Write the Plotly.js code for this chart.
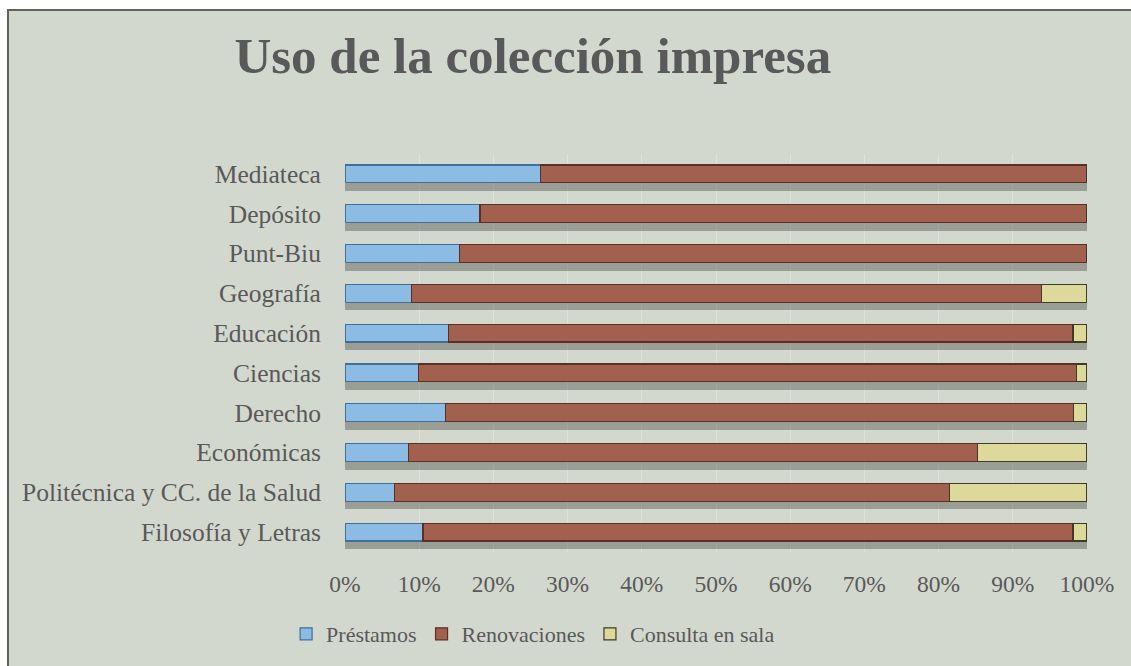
<!DOCTYPE html>
<html>
<head>
<meta charset="utf-8">
<script src="https://cdn.plot.ly/plotly-3.0.1.min.js"></script>
<style>
  html, body { margin: 0; padding: 0; background: #ffffff; width: 1131px; height: 666px; overflow: hidden; }
  #frame { position: absolute; left: 7px; top: 9px; width: 1124px; height: 657px; border-left: 2px solid #5f625d; border-top: 2px solid #5f625d; background: #d3d8ce; }
  #chart { position: absolute; left: 0; top: 0; width: 1124px; height: 657px; }
</style>
</head>
<body>
<div id="frame"><div id="chart"></div></div>
<script>
const categories = ["Filosofía y Letras", "Politécnica y CC. de la Salud", "Económicas", "Derecho", "Ciencias", "Educación", "Geografía", "Punt-Biu", "Depósito", "Mediateca"];
const prestamos    = [10.5,  6.7,  8.6, 13.5,  9.9, 13.9,  9.0, 15.4, 18.2, 26.3];
const renovaciones = [87.6, 74.8, 76.6, 84.7, 88.7, 84.2, 84.9, 84.6, 81.8, 73.7];
const consulta     = [ 1.9, 18.5, 14.8,  1.8,  1.4,  1.9,  6.1,  0.0,  0.0,  0.0];
const seriesNames = ["Préstamos", "Renovaciones", "Consulta en sala"];
const tickVals = [0, 10, 20, 30, 40, 50, 60, 70, 80, 90, 100];
const tickText = ["0%", "10%", "20%", "30%", "40%", "50%", "60%", "70%", "80%", "90%", "100%"];

const serif = "Liberation Serif, Times New Roman, serif";
const textColor = "#595959";
const totals = categories.map((c, i) => prestamos[i] + renovaciones[i] + consulta[i]);

// soft drop shadow under each bar (drawn on the base axis, beneath the bars)
const shadow = {
  type: "bar", orientation: "h", y: categories, x: totals,
  xaxis: "x", yaxis: "y", showlegend: false, hoverinfo: "skip",
  marker: { color: "rgba(60,62,58,0.38)", line: { width: 0 } },
  offset: -0.43, width: 0.33
};
function mk(name, vals, fill, edge) {
  return {
    type: "bar", orientation: "h", name: name, y: categories, x: vals,
    xaxis: "x", yaxis: "y2",
    marker: { color: fill, line: { color: edge, width: 1.2 } }
  };
}
const traces = [
  shadow,
  mk(seriesNames[0], prestamos, "#8cbbe4", "#3f6f9c"),
  mk(seriesNames[1], renovaciones, "#a2614f", "#5a2f25"),
  mk(seriesNames[2], consulta, "#dcd99b", "#3d3b22")
];

const catRange = [-0.5, categories.length - 0.5];
const layout = {
  width: 1124, height: 657,
  paper_bgcolor: "#d3d8ce", plot_bgcolor: "rgba(0,0,0,0)",
  margin: { l: 336, r: 46, t: 143, b: 116 },
  barmode: "stack", bargap: 0.55,
  title: { text: "<b>Uso de la colección impresa</b>", font: { family: serif, size: 51, color: textColor }, x: 0.466, xanchor: "center", xref: "container", y: 0.933, yanchor: "middle", yref: "container" },
  xaxis: { range: [0, 100], tickvals: tickVals, ticktext: tickText, showgrid: true, gridcolor: "#dfe2db", gridwidth: 1, zeroline: false, showline: false, ticks: "outside", ticklen: 11, tickcolor: "rgba(0,0,0,0)", tickfont: { family: serif, size: 23.5, color: textColor }, fixedrange: true },
  yaxis: { type: "category", categoryorder: "array", categoryarray: categories, range: catRange, showgrid: false, zeroline: false, showline: false, ticks: "outside", ticklen: 18, tickcolor: "rgba(0,0,0,0)", tickfont: { family: serif, size: 25.5, color: textColor }, automargin: false },
  yaxis2: { type: "category", categoryorder: "array", categoryarray: categories, range: catRange, overlaying: "y", showticklabels: false, showgrid: false, zeroline: false, showline: false },
  legend: { orientation: "h", x: 0.2535, xanchor: "center", y: -0.206, yanchor: "middle", font: { family: serif, size: 22, color: textColor }, bgcolor: "rgba(0,0,0,0)", traceorder: "normal", itemwidth: 30 },
  showlegend: true
};
Plotly.newPlot("chart", traces, layout, { displayModeBar: false, staticPlot: true });
</script>
</body>
</html>
